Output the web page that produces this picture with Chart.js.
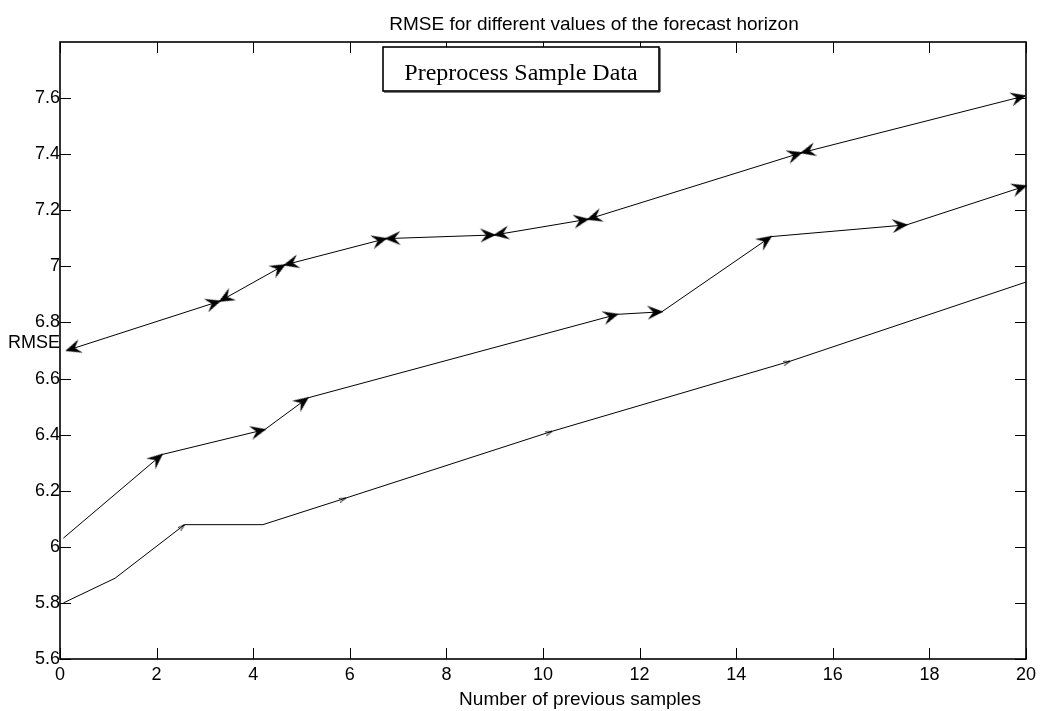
<!DOCTYPE html>
<html>
<head>
<meta charset="utf-8">
<script src="https://cdn.jsdelivr.net/npm/chart.js@4/dist/chart.umd.min.js"></script>
<style>
html,body{margin:0;padding:0;background:#fff;}
#wrap{width:1041px;height:711px;position:relative;}
canvas{display:block;}
</style>
</head>
<body>
<div id="wrap"><canvas id="c" width="1041" height="711"></canvas></div>
<script>
// ---- text ----
const titleText = 'RMSE for different values of the forecast horizon';
const xLabelText = 'Number of previous samples';
const yLabelText = 'RMSE';
const legendText = 'Preprocess Sample Data';

// ---- tick values ----
const xTickValues = [0, 2, 4, 6, 8, 10, 12, 14, 16, 18, 20];
const yTickValues = [5.6, 5.8, 6, 6.2, 6.4, 6.6, 6.8, 7, 7.2, 7.4, 7.6];

// ---- series ----
const topX = [0.14, 3.31, 4.65, 6.75, 9.0, 10.93, 15.35, 19.98];
const topY = [6.70, 6.876, 7.005, 7.099, 7.112, 7.168, 7.405, 7.608];

const midX = [0.07, 2.11, 4.24, 5.13, 11.54, 12.46, 14.72, 17.53, 20.0];
const midY = [6.031, 6.329, 6.418, 6.531, 6.829, 6.838, 7.106, 7.148, 7.287];

const botX = [0.07, 1.14, 2.58, 4.2, 5.92, 10.19, 15.12, 20.0];
const botY = [5.80, 5.888, 6.079, 6.079, 6.174, 6.412, 6.662, 6.944];
const botMarkIdx = [2, 4, 5, 6];

// ---- arrowhead marker images (tip near image centre, pointing +x) ----
function makeArrow(len, half, notch, over) {
  const s = 2 * len + 6, c = s / 2;
  const cv = document.createElement('canvas');
  cv.width = s; cv.height = s;
  const g = cv.getContext('2d');
  g.fillStyle = '#000';
  g.beginPath();
  g.moveTo(c + over, c);
  g.lineTo(c + over - len, c - half);
  g.lineTo(c + over - notch, c);
  g.lineTo(c + over - len, c + half);
  g.closePath();
  g.fill();
  return cv;
}
function makeThinArrow(len, half) {
  const s = 2 * len + 6, c = s / 2;
  const cv = document.createElement('canvas');
  cv.width = s; cv.height = s;
  const g = cv.getContext('2d');
  g.strokeStyle = '#000';
  g.lineWidth = 0.9;
  g.beginPath();
  g.moveTo(c - len, c + half);
  g.lineTo(c, c);
  g.lineTo(c - len, c - half * 0.6);
  g.stroke();
  return cv;
}
const bigArrow = makeArrow(16, 7, 10, 1.5);
const smallArrow = makeThinArrow(7, 2.5);

function pts(xs, ys, idx) {
  return idx.map(i => ({ x: xs[i], y: ys[i] }));
}
function range(a, b) { const r = []; for (let i = a; i < b; i++) r.push(i); return r; }

function segAngle(chart, xs, ys, i, j) {
  const sx = chart.scales.x, sy = chart.scales.y;
  const dx = sx.getPixelForValue(xs[j]) - sx.getPixelForValue(xs[i]);
  const dy = sy.getPixelForValue(ys[j]) - sy.getPixelForValue(ys[i]);
  return Math.atan2(dy, dx) * 180 / Math.PI;
}

// dir = 1: arrow at point idx pointing forward (direction of segment idx-1 -> idx)
// dir = -1: arrow at point idx pointing backward (direction of segment idx+1 -> idx)
function arrowSet(xs, ys, idx, dir, img) {
  return {
    data: pts(xs, ys, idx),
    showLine: false,
    pointStyle: img,
    pointRadius: 6,
    pointHoverRadius: 6,
    borderColor: '#000',
    backgroundColor: '#000',
    clip: false,
    pointRotation: (ctx) => {
      const i = idx[ctx.dataIndex];
      if (!ctx.chart.scales || !ctx.chart.scales.x) return 0;
      return dir > 0 ? segAngle(ctx.chart, xs, ys, i - 1, i)
                     : segAngle(ctx.chart, xs, ys, i + 1, i);
    }
  };
}
function lineSet(xs, ys) {
  return {
    data: pts(xs, ys, range(0, xs.length)),
    showLine: true,
    borderColor: '#000',
    borderWidth: 1,
    pointRadius: 0,
    tension: 0,
    fill: false
  };
}

const datasets = [
  lineSet(topX, topY),
  lineSet(midX, midY),
  lineSet(botX, botY),
  arrowSet(topX, topY, range(1, topX.length), 1, bigArrow),
  arrowSet(topX, topY, range(0, topX.length - 1), -1, bigArrow),
  arrowSet(midX, midY, range(1, midX.length), 1, bigArrow),
  arrowSet(botX, botY, botMarkIdx, 1, smallArrow)
];

const SANS = '"Liberation Sans", Arial, Helvetica, sans-serif';
const SERIF = '"Liberation Serif", "Times New Roman", serif';

const decorations = {
  id: 'decorations',
  afterDatasetsDraw(chart) {
    const { ctx, chartArea: a, scales: { x, y } } = chart;
    ctx.save();
    ctx.strokeStyle = '#000';
    ctx.lineWidth = 1;
    ctx.beginPath();
    const tl = 11;
    x.ticks.forEach(t => {
      const px = Math.round(x.getPixelForValue(t.value)) + 0.5;
      ctx.moveTo(px, a.bottom); ctx.lineTo(px, a.bottom - tl);
      ctx.moveTo(px, a.top); ctx.lineTo(px, a.top + tl);
    });
    y.ticks.forEach(t => {
      const py = Math.round(y.getPixelForValue(t.value)) + 0.5;
      ctx.moveTo(a.left, py); ctx.lineTo(a.left + tl, py);
      ctx.moveTo(a.right, py); ctx.lineTo(a.right - tl, py);
    });
    ctx.stroke();
    ctx.lineWidth = 1.6;
    ctx.strokeRect(a.left, a.top, a.right - a.left, a.bottom - a.top);

    // legend box
    const bx = 383, by = 47, bw = 276, bh = 44;
    ctx.fillStyle = '#fff';
    ctx.fillRect(bx, by, bw, bh);
    ctx.lineWidth = 1.6;
    ctx.strokeRect(bx, by, bw, bh);
    ctx.lineWidth = 1;
    ctx.beginPath();
    ctx.moveTo(bx + 1, by + bh + 1); ctx.lineTo(bx + bw + 1, by + bh + 1); ctx.lineTo(bx + bw + 1, by + 1);
    ctx.stroke();
    ctx.fillStyle = '#000';
    ctx.font = '24px ' + SERIF;
    ctx.textAlign = 'center';
    ctx.textBaseline = 'alphabetic';
    ctx.fillText(legendText, bx + bw / 2, 80);

    // title and axis labels
    ctx.font = '19px ' + SANS;
    ctx.fillText(titleText, 594, 30);
    ctx.fillText(xLabelText, 580, 705);
    ctx.font = '18px ' + SANS;
    ctx.textAlign = 'right';
    ctx.fillText(yLabelText, 60, 348);
    ctx.restore();
  }
};

new Chart(document.getElementById('c'), {
  type: 'line',
  data: { datasets },
  plugins: [decorations],
  options: {
    responsive: false,
    animation: false,
    devicePixelRatio: 1,
    layout: { padding: { left: 0, right: 13, top: 42, bottom: 0 } },
    plugins: { legend: { display: false }, title: { display: false }, tooltip: { enabled: false } },
    events: [],
    scales: {
      x: {
        type: 'linear',
        min: 0, max: 20,
        afterBuildTicks: s => { s.ticks = xTickValues.map(v => ({ value: v })); },
        afterFit: s => { s.height = 52; },
        grid: { display: false, drawTicks: false },
        border: { display: false },
        ticks: {
          color: '#000',
          padding: 5,
          maxRotation: 0,
          autoSkip: false,
          font: { family: SANS, size: 18 },
          callback: v => String(v)
        }
      },
      y: {
        type: 'linear',
        min: 5.6, max: 7.8,
        afterBuildTicks: s => { s.ticks = yTickValues.map(v => ({ value: v })); },
        afterFit: s => { s.width = 60; },
        grid: { display: false, drawTicks: false },
        border: { display: false },
        ticks: {
          color: '#000',
          padding: 0,
          autoSkip: false,
          font: { family: SANS, size: 18 },
          callback: v => String(+(+v).toFixed(1))
        }
      }
    }
  }
});
</script>
</body>
</html>
